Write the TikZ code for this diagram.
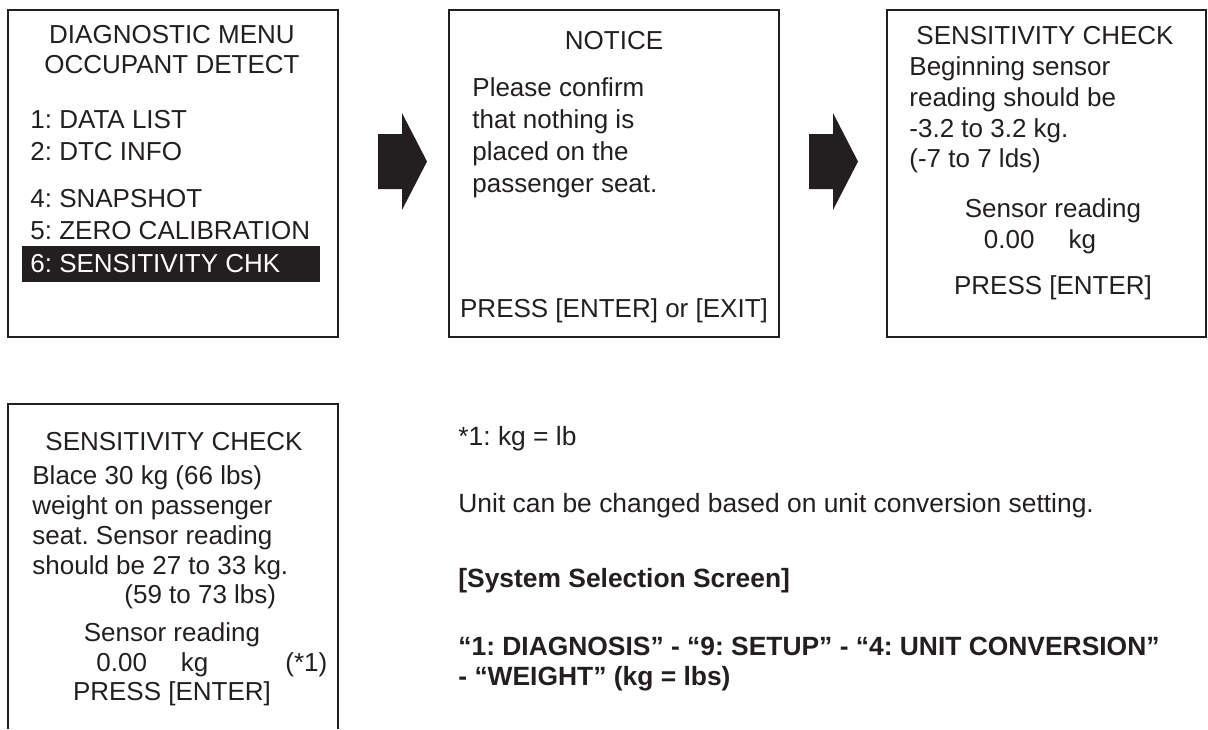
\documentclass[tikz,border=0pt]{standalone}
\usepackage{fontspec}
\setmainfont{Liberation Sans}
\usetikzlibrary{positioning}
\frenchspacing

\definecolor{ink}{RGB}{35,31,32}

\tikzset{
  screen/.style={draw=ink, line width=0.75pt, minimum width=165pt,
    minimum height=163.5pt, inner sep=0pt},
  txt/.style={anchor=base west, inner sep=0pt, text=ink,
    font=\fontsize{13}{15}\selectfont},
  ctxt/.style={txt, anchor=base},
  note/.style={txt, font=\fontsize{13.2}{15}\selectfont},
  bnote/.style={txt, font=\fontsize{13.2}{15}\selectfont\bfseries},
  blockarrow/.style={fill=ink}
}

\begin{document}
\begin{tikzpicture}[x=0.5pt, y=-0.5pt]
  \useasboundingbox (0,0) rectangle (1208,729);

  % screens
  \node[screen] (menu)   at (173,173.5) {};
  \node[screen] (notice) at (614,173.5) {};
  \node[screen, minimum width=159.5pt] (check) at (1046.5,173.5) {};
  \draw[ink, line width=0.75pt] (8,729) -- (8,404) -- (338,404) -- (338,729);

  % block arrows between screens
  \foreach \ax in {378,809}
    \fill[blockarrow] (\ax,134) -- ++(24,0) -- ++(0,-21) -- ++(25,48.5)
      -- ++(-25,48.5) -- ++(0,-21) -- ++(-24,0) -- cycle;

  % diagnostic menu
  \node[ctxt] (menu-h1) at (172,43) {DIAGNOSTIC MENU};
  \node[ctxt] (menu-h2) at (172,73) {OCCUPANT DETECT};
  \node[txt]  (menu-1)  at (30,128) {1: DATA LIST};
  \node[txt]  (menu-2)  at (30,160) {2: DTC INFO};
  \node[txt]  (menu-4)  at (30,207) {4: SNAPSHOT};
  \node[txt]  (menu-5)  at (30,239) {5: ZERO CALIBRATION};
  \node[fill=ink, minimum width=149pt, minimum height=18pt, inner sep=0pt]
    (hilite) at (171,264) {};
  \node[txt, text=white] (menu-6) at (30,272) {6: SENSITIVITY CHK};

  % notice
  \node[ctxt] (notice-h) at (614,49) {NOTICE};
  \node[txt] (notice-1) at (472,96)  {Please confirm};
  \node[txt] (notice-2) at (472,128) {that nothing is};
  \node[txt] (notice-3) at (472,160) {placed on the};
  \node[txt] (notice-4) at (472,192) {passenger seat.};
  \node[ctxt] (notice-k) at (614,317) {PRESS [ENTER] or [EXIT]};

  % sensitivity check, empty seat
  \node[ctxt] (check-h) at (1045,44) {SENSITIVITY CHECK};
  \node[txt] (check-1) at (909,75)  {Beginning sensor};
  \node[txt] (check-2) at (909,106) {reading should be};
  \node[txt] (check-3) at (909,137) {-3.2 to 3.2 kg.};
  \node[txt] (check-4) at (909,167) {(-7 to 7 lds)};
  \node[ctxt] (check-s) at (1053,217) {Sensor reading};
  \node[ctxt] (check-v) at (1040,248) {0.00\hspace{17pt}kg};
  \node[ctxt] (check-k) at (1053,294) {PRESS [ENTER]};

  % sensitivity check, 30 kg weight
  \node[ctxt] (load-h) at (174,450) {SENSITIVITY CHECK};
  \node[txt] (load-1) at (32,484) {Blace 30 kg (66 lbs)};
  \node[txt] (load-2) at (32,514) {weight on passenger};
  \node[txt] (load-3) at (32,544) {seat. Sensor reading};
  \node[txt] (load-4) at (32,574) {should be 27 to 33 kg.};
  \node[txt] (load-5) at (124,603) {(59 to 73 lbs)};
  \node[ctxt] (load-s) at (172,641) {Sensor reading};
  \node[txt] (load-v) at (96,671) {0.00\hspace{17pt}kg};
  \node[txt] (load-r) at (285,671) {(*1)};
  \node[ctxt] (load-k) at (172,700) {PRESS [ENTER]};

  % unit note
  \node[note]  (unit-fn)  at (458,445) {*1: kg = lb};
  \node[note]  (unit-txt) at (458,512) {Unit can be changed based on unit conversion setting.};
  \node[bnote] (unit-sys) at (458,587) {[System Selection Screen]};
  \node[bnote] (unit-p1)  at (458,655) {“1: DIAGNOSIS” - “9: SETUP” - “4: UNIT CONVERSION”};
  \node[bnote] (unit-p2)  at (458,685) {- “WEIGHT” (kg = lbs)};
\end{tikzpicture}
\end{document}
